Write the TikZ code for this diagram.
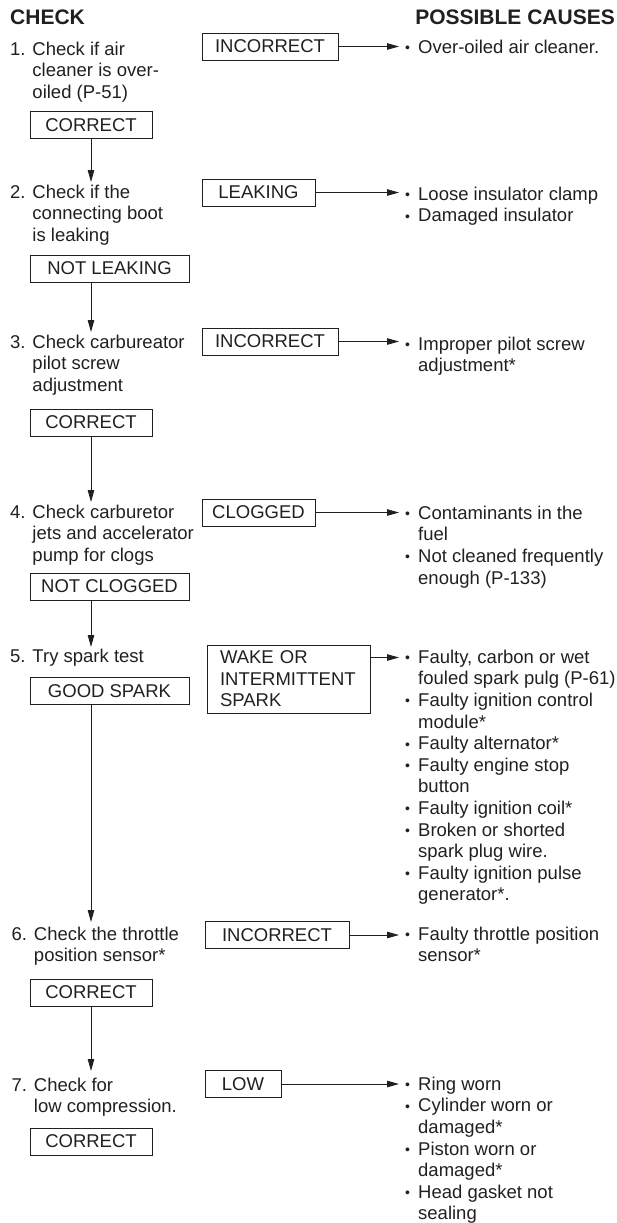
\documentclass[tikz,border=0pt]{standalone}
\usepackage{fontspec}
\setmainfont{Liberation Sans}
\usetikzlibrary{arrows.meta,calc}
\definecolor{ink}{RGB}{35,31,32}
\newcommand{\bul}{\makebox[13pt][l]{\raisebox{0.6pt}{\fontsize{14}{14}\selectfont •}}}
\newcommand{\ind}{\hspace*{13pt}}
\newcommand{\st}{\rule{0pt}{14pt}}
\begin{document}
\begin{tikzpicture}[x=1pt,y=-1pt,
  every node/.style={text=ink},
  txt/.style={anchor=north west, inner sep=0pt, align=left, font=\fontsize{18.5}{21.6}\selectfont},
  hdr/.style={inner sep=0pt, font=\bfseries\fontsize{21}{24}\selectfont},
  box/.style={draw=ink, line width=0.9pt, inner sep=0pt, minimum height=27pt, font=\fontsize{18.5}{21.6}\selectfont},
  arr/.style={draw=ink, line width=0.9pt, -{Triangle[length=12pt,width=6.5pt]}},
]
\useasboundingbox (0,0) rectangle (617,1223);
\coordinate (spine) at (91,0);

% headers
\node[hdr, anchor=base west] (hchk) at (10,25) {CHECK};
\node[hdr, anchor=base east] (hpc) at (615,25) {POSSIBLE CAUSES};

% check steps
\node[txt] (s1) at (10,41) {\st 1. Check if air\\\hphantom{1. }cleaner is over-\\\hphantom{1. }oiled (P-51)};
\node[txt] (s2) at (10,184) {\st 2. Check if the\\\hphantom{2. }connecting boot\\\hphantom{2. }is leaking};
\node[txt] (s3) at (10,334) {\st 3. Check carbureator\\\hphantom{3. }pilot screw\\\hphantom{3. }adjustment};
\node[txt] (s4) at (10,504) {\st 4. Check carburetor\\\hphantom{4. }jets and accelerator\\\hphantom{4. }pump for clogs};
\node[txt] (s5) at (10,648) {\st 5. Try spark test};
\node[txt] (s6) at (11.5,926) {\st 6. Check the throttle\\\hphantom{6. }position sensor*};
\node[txt] (s7) at (11.5,1077) {\st 7. Check for\\\hphantom{7. }low compression.};

% pass boxes
\node[box, minimum width=122pt] (cor1) at (91,125) {CORRECT};
\node[box, minimum width=159pt] (notleak) at (109.5,268.5) {NOT LEAKING};
\node[box, minimum width=122pt] (cor3) at (91,422.5) {CORRECT};
\node[box, minimum width=159pt] (notclog) at (109.5,586.5) {NOT CLOGGED};
\node[box, minimum width=159pt] (good) at (109.5,691) {GOOD SPARK};
\node[box, minimum width=122pt] (cor6) at (91,992.5) {CORRECT};
\node[box, minimum width=122pt] (cor7) at (91,1141.5) {CORRECT};

% fail boxes
\node[box, minimum width=136pt] (inc1) at (270,46.5) {INCORRECT};
\node[box, minimum width=113pt] (leak) at (258.5,192.5) {LEAKING};
\node[box, minimum width=136pt] (inc2) at (270,341.5) {INCORRECT};
\node[box, minimum width=113pt] (clog) at (258.5,512.5) {CLOGGED};
\node[box, inner xsep=13pt, text width=137pt, minimum height=68pt, align=left] (wake) at (288.5,679) {WAKE OR\\INTERMITTENT\\SPARK};
\node[box, minimum width=144pt] (inc3) at (277,935) {INCORRECT};
\node[box, minimum width=76pt] (low) at (243,1084) {LOW};

% causes
\node[txt] (c1) at (405,39) {\st\bul Over-oiled air cleaner.};
\node[txt] (c2) at (405,186) {\st\bul Loose insulator clamp\\\bul Damaged insulator};
\node[txt] (c3) at (405,336) {\st\bul Improper pilot screw\\\ind adjustment*};
\node[txt] (c4) at (405,505) {\st\bul Contaminants in the\\\ind fuel\\\bul Not cleaned frequently\\\ind enough (P-133)};
\node[txt] (c5) at (405,649) {\st\bul Faulty, carbon or wet\\\ind fouled spark pulg (P-61)\\\bul Faulty ignition control\\\ind module*\\\bul Faulty alternator*\\\bul Faulty engine stop\\\ind button\\\bul Faulty ignition coil*\\\bul Broken or shorted\\\ind spark plug wire.\\\bul Faulty ignition pulse\\\ind generator*.};
\node[txt] (c6) at (405,926) {\st\bul Faulty throttle position\\\ind sensor*};
\node[txt] (c7) at (405,1076) {\st\bul Ring worn\\\bul Cylinder worn or\\\ind damaged*\\\bul Piston worn or\\\ind damaged*\\\bul Head gasket not\\\ind sealing};

% vertical connectors
\draw[arr, shorten >=2pt] (cor1.south -| spine) -- (s2.north -| spine);
\draw[arr, shorten >=2pt] (notleak.south -| spine) -- (s3.north -| spine);
\draw[arr, shorten >=2pt] (cor3.south -| spine) -- (s4.north -| spine);
\draw[arr, shorten >=1pt] (notclog.south -| spine) -- (s5.north -| spine);
\draw[arr, shorten >=4pt] (good.south -| spine) -- (s6.north -| spine);
\draw[arr, shorten >=6pt] (cor6.south -| spine) -- (s7.north -| spine);

% horizontal connectors
\draw[arr, shorten >=6pt] (inc1.east) -- (inc1.east -| c1.west);
\draw[arr, shorten >=6pt] (leak.east) -- (leak.east -| c2.west);
\draw[arr, shorten >=6pt] (inc2.east) -- (inc2.east -| c3.west);
\draw[arr, shorten >=6pt] (clog.east) -- (clog.east -| c4.west);
\coordinate (a5) at ([shift={(-6,8.5)}]c5.north west);
\draw[arr] (wake.east |- a5) -- (a5);
\draw[arr, shorten >=6pt] (inc3.east) -- (inc3.east -| c6.west);
\draw[arr, shorten >=6pt] (low.east) -- (low.east -| c7.west);
\end{tikzpicture}
\end{document}
